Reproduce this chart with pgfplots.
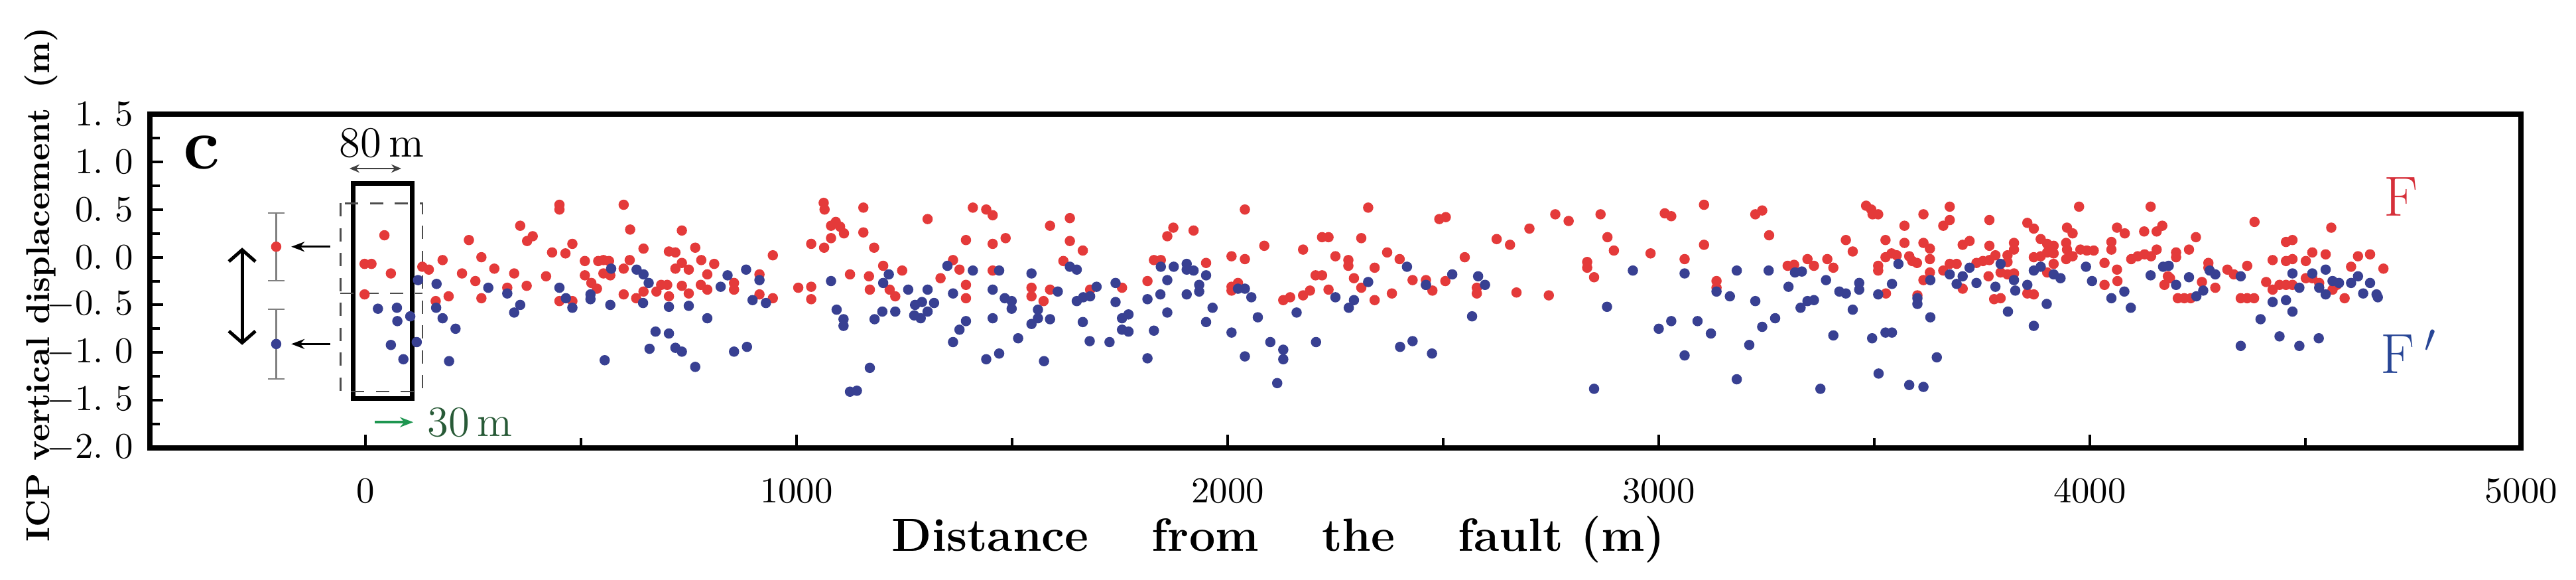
\documentclass[border=0pt]{standalone}
\usepackage{pgfplots}
\usepackage{pgfplotstable}
\pgfplotsset{compat=1.18}
\usetikzlibrary{arrows.meta}
\definecolor{redpt}{RGB}{228,58,58}
\definecolor{bluept}{RGB}{56,64,146}
\definecolor{darkgreen}{RGB}{40,90,55}
\definecolor{arrowgreen}{RGB}{30,150,80}
\definecolor{fred}{RGB}{214,48,58}
\definecolor{fblue}{RGB}{40,70,150}

\pgfplotstableread{
x y
44 0.23
-2 -0.07
14 -0.07
59 -0.17
-2 -0.39
132 -0.10
147 -0.13
179 -0.03
240 0.18
224 -0.17
269 0.00
255 -0.25
299 -0.12
193 -0.41
163 -0.46
269 -0.43
345 -0.17
329 -0.32
374 -0.30
359 0.33
375 0.17
388 0.22
450 0.55
450 0.50
419 -0.20
433 0.05
464 0.04
480 0.14
450 -0.46
509 -0.04
509 -0.19
524 -0.27
537 -0.33
540 -0.04
552 -0.03
565 -0.04
552 -0.17
568 -0.19
480 -0.46
599 0.55
614 0.29
734 0.28
645 0.09
704 0.06
719 0.05
765 0.10
613 -0.03
779 -0.03
599 -0.12
734 -0.06
719 -0.12
750 -0.13
809 -0.07
793 -0.18
700 -0.29
686 -0.29
734 -0.30
778 -0.29
793 -0.34
645 -0.36
675 -0.36
599 -0.39
628 -0.43
704 -0.41
750 -0.38
855 -0.27
855 -0.34
914 -0.18
914 -0.39
945 0.02
945 -0.43
1004 -0.32
1034 -0.31
1034 0.14
1034 -0.44
1064 0.10
1080 0.20
1063 0.57
1065 0.50
1091 0.37
1080 0.33
1101 0.32
1110 0.25
1155 0.52
1155 0.26
1124 -0.18
1168 -0.20
1170 -0.34
1180 0.10
1304 0.40
1201 -0.09
1245 -0.14
1216 -0.34
1229 -0.41
1334 -0.22
1363 -0.03
1378 -0.13
1393 -0.29
1393 -0.43
1409 0.52
1440 0.50
1455 0.44
1393 0.18
1455 0.14
1485 0.20
1455 -0.14
1545 -0.32
1545 -0.41
1573 -0.46
1588 -0.34
1588 0.33
1634 0.41
1634 0.17
1664 0.07
1619 -0.04
1681 -0.34
1755 -0.32
1874 0.31
1860 0.22
1921 0.28
2040 0.50
1829 -0.03
1845 -0.03
1814 -0.25
1950 -0.06
2009 0.01
2040 -0.02
2085 0.12
2009 -0.31
2024 -0.27
2009 -0.35
2129 -0.45
2145 -0.42
2175 -0.40
2191 -0.35
2175 0.08
2219 0.21
2234 0.21
2326 0.52
2310 0.20
2370 0.05
2250 0.01
2280 -0.03
2280 -0.09
2341 -0.11
2204 -0.19
2219 -0.19
2234 -0.34
2293 -0.22
2310 -0.32
2341 -0.45
2381 -0.38
2491 0.40
2506 0.42
2399 -0.02
2429 -0.24
2460 -0.24
2460 -0.29
2475 -0.35
2505 -0.25
2550 0.00
2578 -0.32
2578 -0.38
2624 0.19
2655 0.13
2670 -0.37
2700 0.30
2745 -0.40
2760 0.45
2791 0.38
2865 0.45
2881 0.21
2896 0.07
2834 -0.05
2834 -0.11
2850 -0.21
2981 0.04
3014 0.46
3029 0.43
3105 0.55
3105 0.13
3060 -0.02
3224 0.45
3240 0.49
3256 0.23
3134 -0.25
3134 -0.32
3299 -0.09
3314 -0.08
3345 -0.02
3360 -0.09
3391 -0.02
3405 -0.11
3434 0.18
3450 0.06
3481 0.54
3493 0.50
3509 0.45
3496 0.45
3526 0.18
3570 0.33
3570 0.15
3540 0.04
3526 0.00
3552 0.02
3509 -0.09
3509 -0.14
3527 -0.38
3581 0.01
3614 0.45
3675 0.53
3675 0.39
3660 0.33
3767 0.39
3614 0.15
3629 0.09
3588 -0.04
3599 -0.06
3629 -0.02
3629 -0.16
3614 -0.24
3600 -0.40
3660 -0.14
3675 -0.07
3691 -0.07
3705 0.13
3721 0.17
3705 -0.33
3767 0.12
3737 -0.06
3752 -0.04
3767 -0.03
3781 0.02
3765 -0.20
3824 0.15
3824 0.08
3809 0.02
3809 -0.05
3793 -0.16
3809 -0.18
3824 -0.17
3778 -0.44
3793 -0.43
3855 0.36
3870 0.30
3886 0.19
3901 0.14
3916 0.12
3870 0.00
3886 0.01
3901 0.05
3916 0.04
3901 -0.16
3916 -0.07
3855 -0.38
3870 -0.39
3975 0.53
3947 0.31
3960 0.25
3945 0.15
3947 0.08
3945 -0.02
3960 0.01
3978 0.08
3993 0.07
4009 0.07
4034 -0.06
4050 0.16
4050 0.08
4063 -0.13
4034 -0.29
4064 -0.25
4063 0.31
4081 0.25
4126 0.27
4155 0.27
4168 0.33
4141 0.53
4155 0.08
4096 -0.02
4111 0.01
4127 0.03
4142 0.01
4173 -0.29
4181 -0.20
4246 0.21
4230 0.08
4200 0.05
4200 0.00
4186 -0.22
4204 -0.43
4219 -0.43
4234 -0.43
4275 -0.06
4275 -0.11
4291 -0.32
4260 -0.26
4319 -0.13
4334 -0.18
4365 -0.09
4350 -0.43
4365 -0.43
4381 -0.43
4382 0.37
4455 0.16
4470 0.18
4424 -0.03
4455 -0.04
4470 -0.02
4501 -0.04
4516 0.05
4547 0.03
4560 0.31
4409 -0.26
4424 -0.34
4440 -0.29
4455 -0.29
4470 -0.29
4501 -0.22
4516 -0.22
4532 -0.27
4573 -0.29
4563 -0.34
4591 -0.43
4606 -0.10
4622 0.01
4650 0.03
4681 -0.12
}\redtab

\pgfplotstableread{
x y
29 -0.54
73 -0.53
74 -0.67
59 -0.92
88 -1.07
104 -0.62
119 -0.89
122 -0.24
165 -0.28
164 -0.53
179 -0.64
209 -0.75
194 -1.09
285 -0.32
329 -0.38
359 -0.50
345 -0.58
450 -0.32
465 -0.43
480 -0.53
522 -0.39
522 -0.44
568 -0.50
555 -1.08
570 -0.12
629 -0.13
645 -0.18
657 -0.27
644 -0.48
704 -0.52
750 -0.51
793 -0.64
673 -0.78
704 -0.80
659 -0.96
719 -0.95
734 -0.99
765 -1.15
824 -0.31
840 -0.19
883 -0.13
914 -0.24
898 -0.45
929 -0.48
855 -0.99
885 -0.94
1080 -0.25
1093 -0.55
1109 -0.65
1109 -0.72
1181 -0.65
1170 -1.16
1124 -1.41
1140 -1.40
1214 -0.18
1201 -0.27
1199 -0.57
1229 -0.57
1259 -0.34
1304 -0.34
1275 -0.50
1291 -0.47
1319 -0.48
1273 -0.61
1288 -0.64
1304 -0.57
1350 -0.09
1409 -0.14
1363 -0.38
1393 -0.67
1378 -0.76
1363 -0.89
1440 -1.07
1470 -1.01
1455 -0.34
1470 -0.14
1455 -0.64
1483 -0.43
1499 -0.46
1499 -0.54
1514 -0.85
1545 -0.17
1560 -0.55
1560 -0.64
1545 -0.70
1588 -0.65
1574 -1.09
1606 -0.36
1634 -0.10
1650 -0.13
1650 -0.46
1665 -0.42
1681 -0.41
1696 -0.31
1664 -0.68
1680 -0.88
1726 -0.89
1740 -0.27
1740 -0.47
1755 -0.64
1770 -0.60
1755 -0.76
1770 -0.78
1845 -0.10
1875 -0.10
1905 -0.07
1905 -0.13
1921 -0.14
1950 -0.19
1860 -0.24
1934 -0.29
1934 -0.36
1844 -0.39
1814 -0.44
1905 -0.39
1860 -0.58
1829 -0.77
1814 -1.06
1965 -0.53
1950 -0.68
2009 -0.79
2024 -0.33
2040 -0.33
2055 -0.42
2070 -0.63
2040 -1.04
2099 -0.89
2129 -0.97
2129 -1.07
2115 -1.32
2160 -0.58
2205 -0.89
2250 -0.42
2293 -0.45
2281 -0.53
2326 -0.26
2416 -0.10
2460 -0.29
2521 -0.18
2581 -0.20
2597 -0.29
2567 -0.62
2400 -0.94
2429 -0.88
2474 -1.01
2880 -0.52
2940 -0.14
2850 -1.38
3060 -0.17
3181 -0.14
3255 -0.14
3134 -0.36
3165 -0.41
3224 -0.46
3301 -0.31
3316 -0.16
3332 -0.15
3388 -0.24
3419 -0.36
3434 -0.38
3465 -0.27
3465 -0.34
3345 -0.46
3360 -0.45
3329 -0.53
3450 -0.55
3509 -0.39
3541 -0.28
3556 -0.07
3029 -0.67
3090 -0.67
3000 -0.75
3121 -0.80
3270 -0.64
3240 -0.73
3210 -0.92
3060 -1.03
3181 -1.28
3405 -0.82
3495 -0.85
3526 -0.79
3541 -0.79
3375 -1.38
3510 -1.22
3581 -1.34
3600 -0.43
3600 -0.49
3630 -0.24
3630 -0.63
3645 -1.05
3614 -1.36
3675 -0.18
3691 -0.28
3705 -0.20
3721 -0.11
3737 -0.27
3781 -0.31
3793 -0.07
3824 -0.24
3827 -0.35
3810 -0.57
3855 -0.29
3870 -0.72
3870 -0.14
3886 -0.10
3916 -0.18
3932 -0.22
3900 -0.49
3991 -0.10
4005 -0.25
4050 -0.43
4080 -0.36
4095 -0.53
4141 -0.19
4170 -0.10
4183 -0.09
4200 -0.29
4230 -0.21
4263 -0.35
4247 -0.41
4278 -0.14
4291 -0.18
4350 -0.20
4470 -0.17
4424 -0.47
4455 -0.45
4470 -0.57
4396 -0.65
4350 -0.93
4440 -0.83
4486 -0.93
4531 -0.85
4486 -0.32
4516 -0.17
4547 -0.13
4532 -0.32
4547 -0.39
4563 -0.25
4578 -0.27
4606 -0.27
4622 -0.20
4650 -0.27
4634 -0.38
4665 -0.39
4668 -0.42
}\bluetab

\begin{document}
\begin{tikzpicture}
\useasboundingbox (-45.2pt,-39.6pt) rectangle (731.6pt,135pt);
\begin{axis}[
  at={(0,0)}, anchor=south west,
  width=715pt, height=100.6pt, scale only axis,
  xmin=-500, xmax=5000, ymin=-2, ymax=1.5,
  clip=false,
  axis line style={line width=1.5pt},
  tick pos=left, tick align=inside,
  xtick={0,1000,2000,3000,4000,5000},
  minor xtick={500,1500,2500,3500,4500},
  ytick={-2,-1.5,-1,-0.5,0,0.5,1,1.5},
  minor ytick={-1.75,-1.25,-0.75,-0.25,0.25,0.75,1.25},
  yticklabels={$-2.\ 0$,$-1.\ 5$,$-1.\ 0$,$-0.\ 5$,$0.\ 0$,$0.\ 5$,$1.\ 0$,$1.\ 5$},
  major tick length=4pt, minor tick length=3pt,
  every tick/.style={black, line width=0.8pt},
  /pgf/number format/1000 sep={},
  xticklabel style={font=\fontsize{11}{12}\selectfont, yshift=-6pt},
  yticklabel style={font=\fontsize{10.5}{12}\selectfont, xshift=-1.5pt},
  xlabel={\fontsize{14}{16}\selectfont\bfseries Distance\hspace{19pt}from\hspace{19pt}the\hspace{19pt}fault (m)},
  xlabel style={at={(axis description cs:0.476,0)}, anchor=center, yshift=-27.6pt},
  ylabel={\fontsize{10}{12}\selectfont\bfseries ICP vertical displacement\hspace{6pt}(m)},
  ylabel style={at={(axis description cs:-0.046,0.49)}, anchor=center},
]
\addplot[only marks, mark=*, mark size=1.35pt, color=redpt] table[x=x,y=y] {\redtab};
\addplot[only marks, mark=*, mark size=1.35pt, color=bluept] table[x=x,y=y] {\bluetab};

% error-bar summary points
\addplot[only marks, mark=*, mark size=1.35pt, color=redpt,
  error bars/.cd, y dir=both, y explicit,
  error bar style={gray, line width=0.5pt},
  error mark options={rotate=90, gray, mark size=2.5pt, line width=0.5pt}]
  coordinates {(-207,0.11) +- (0,0.355)};
\addplot[only marks, mark=*, mark size=1.35pt, color=bluept,
  error bars/.cd, y dir=both, y explicit,
  error bar style={gray, line width=0.5pt},
  error mark options={rotate=90, gray, mark size=2.5pt, line width=0.5pt}]
  coordinates {(-207,-0.91) +- (0,0.365)};

% boxes
\draw[line width=1.4pt] (axis cs:-28,0.77) rectangle (axis cs:109,-1.48);
\draw[black!70, line width=0.5pt, dash pattern=on 4pt off 3.5pt] (axis cs:-58,0.565) rectangle (axis cs:132,-1.41);
\draw[black!70, line width=0.5pt, dash pattern=on 4pt off 3.5pt] (axis cs:-58,-0.38) -- (axis cs:132,-0.38);

% arrows
\draw[-{Stealth[length=4pt,width=3pt]}, line width=0.6pt] (axis cs:-82,0.11) -- (axis cs:-172,0.11);
\draw[-{Stealth[length=4pt,width=3pt]}, line width=0.6pt] (axis cs:-82,-0.91) -- (axis cs:-172,-0.91);
\draw[{Straight Barb[length=3.5pt,width=8pt]}-{Straight Barb[length=3.5pt,width=8pt]}, line width=1pt] (axis cs:-286,0.1) -- (axis cs:-286,-0.92);
\draw[{Stealth[length=3pt,width=2.5pt]}-{Stealth[length=3pt,width=2.5pt]}, black!75, line width=0.4pt] (axis cs:-37,0.93) -- (axis cs:83,0.93);
\draw[-{Stealth[length=4pt,width=3pt]}, arrowgreen, line width=0.8pt] (axis cs:22,-1.73) -- (axis cs:111,-1.73);

% texts
\node at (axis cs:38,1.2) {\fontsize{13}{13}\selectfont 80\,m};
\node[text=darkgreen] at (axis cs:242,-1.73) {\fontsize{13}{13}\selectfont 30\,m};
\node at (axis cs:-380,1.1) {\fontsize{22}{22}\selectfont\bfseries c};
\node[text=fred] at (axis cs:4722,0.63) {\fontsize{17}{17}\selectfont F};
\node[text=fblue] at (axis cs:4740,-0.99) {\fontsize{17}{17}\selectfont F$\,'$};
\end{axis}
\end{tikzpicture}
\end{document}
